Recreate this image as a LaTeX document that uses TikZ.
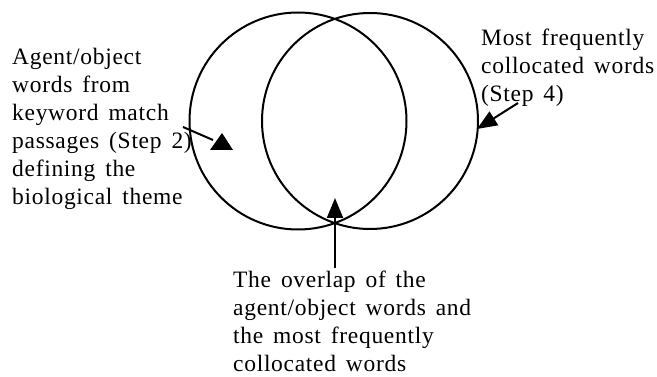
\documentclass[tikz,border=0pt]{standalone}
\usepackage{fontspec}
\setmainfont{Liberation Serif}[LetterSpace=3,WordSpace=1.5]
\usetikzlibrary{arrows.meta}
\begin{document}
\begin{tikzpicture}[x=1pt,y=-1pt,
  setcircle/.style={circle,draw,line width=2pt,inner sep=0pt},
  label/.style={anchor=north west,inner sep=0pt,align=left,font=\fontsize{23.5}{28}\selectfont},
  conn/.style={line width=2pt},
  tip/.style={conn,-{Triangle[length=20pt,width=16pt]}}]
\useasboundingbox (0,0) rectangle (657,377);
\node[setcircle,minimum size=217pt] (L) at (298,121) {};
\node[setcircle,minimum size=216pt] (R) at (370,121) {};
\node[label] (lt) at (12,48) {Agent/object\\words from\\keyword match\\passages (Step 2)\\defining the\\biological theme};
\node[label] (rt) at (481,29) {Most frequently\\collocated words\\(Step 4)};
\node[label] (bt) at (233,271) {The overlap of the\\agent/object words and\\the most frequently\\collocated words};
% left connector and upright triangle
\coordinate (la) at (183,127);
\coordinate (lb) at (213,140);
\draw[conn] (la) -- (lb);
\fill (210,150) -- (222,133) -- (233,150) -- cycle;
% right connector
\coordinate (ra) at (518,103);
\coordinate (rb) at (477,129);
\draw[tip] (ra) -- (rb);
% bottom connector
\coordinate (ba) at (335,268);
\coordinate (bb) at (335,198);
\draw[tip] (ba) -- (bb);
\end{tikzpicture}
\end{document}
